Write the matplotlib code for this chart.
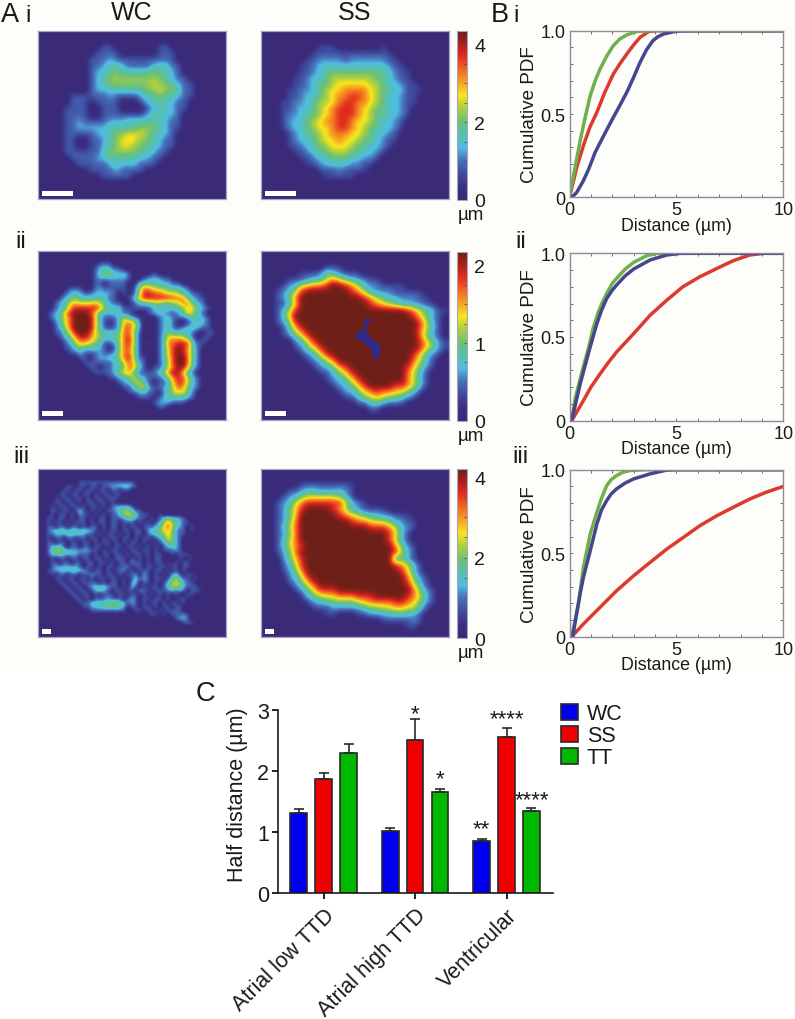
import matplotlib
matplotlib.use("Agg")
import matplotlib.pyplot as plt
from matplotlib.colors import LinearSegmentedColormap
from matplotlib.patches import Rectangle, Patch
from matplotlib.ticker import MultipleLocator
import numpy as np

plt.rcParams['font.family'] = ['Liberation Sans', 'DejaVu Sans']

W, H = 795, 1020

# ---- distance maps: each character is a level 0-9
LEVELS = [0.0, 0.16, 0.26, 0.33, 0.44, 0.55, 0.63, 0.74, 0.86, 1.0]        # share of the scale maximum
LEVELS_THIN = [0.0, 0.19, 0.31, 0.38, 0.50, 0.60, 0.68, 0.78, 0.88, 1.0]    # maps with thin ridges

WC_I = ["", "",
"000000000011000000011", "0000000001111000000111", "0000000011121111111111",
"00000000112332111123311", "00000000122343333343321", "00000000123444444444" + "3211",
"00000000123" + "4444444" + "5443211", "0000000012223333344544311",
"00000" + "111111" + "2" + "1111" + "2" + "33" + "4" + "33" + "2" + "11",
"00000" + "1110111100012333211",
"0000" + "1111" + "00" + "111" + "0000" + "1233211",
"0000" + "1111" + "00" + "1111111" + "2" + "33" + "22" + "1",
"0000" + "1121111222" + "333333" + "211",
"0000" + "11" + "22222" + "33333" + "444" + "3211",
"0000" + "11111" + "22" + "3" + "44" + "555" + "4" + "33" + "2" + "1",
"0000" + "11" + "00" + "11" + "2" + "3" + "4" + "5" + "6" + "5" + "44" + "3" + "2" + "11",
"0000" + "11" + "00" + "11" + "2" + "3" + "4" + "55" + "44" + "33" + "2" + "11",
"0000" + "111111" + "3" + "44444" + "33211",
"00000" + "1111" + "22" + "33333" + "22" + "11",
"000000" + "11111" + "2" + "3" + "222" + "111",
"00000000" + "1111" + "2" + "1111",
"0000000000" + "11111", "", "", ""]

SS_I = ["", "",
"000000000111" + "0000000" + "1", "00000000" + "1" * 13,
"0000000" + "11" + "2222" + "1" + "222222" + "11",
"000000" + "11" + "2" + "33333333333" + "2" + "11",
"000000" + "11" + "2" + "3" + "4444444444" + "3" + "2" + "11",
"00000" + "11" + "2" + "33" + "4" + "5555555" + "44" + "3" + "2" + "11",
"00000" + "11" + "2" + "3" + "44" + "5" + "66666" + "55" + "4" + "33" + "2" + "11",
"0000" + "11" + "22" + "3" + "4" + "5" + "66" + "7777" + "6" + "5" + "44" + "33" + "111",
"0000" + "11" + "2" + "33" + "4" + "5" + "6" + "77" + "88" + "7" + "6" + "5" + "4" + "33" + "2" + "11",
"000" + "11" + "22" + "3" + "4" + "55" + "6" + "7" + "88" + "77" + "6" + "5" + "4" + "33" + "2" + "11",
"000" + "11" + "2" + "33" + "4" + "5" + "6" + "7" + "888" + "7" + "6" + "5" + "44" + "33" + "2" + "1",
"000" + "1" + "22" + "3" + "44" + "5" + "6" + "7" + "888" + "7" + "6" + "5" + "44" + "33" + "2" + "1",
"000" + "1" + "2" + "33" + "4" + "5" + "6" + "77" + "88" + "7" + "66" + "5" + "4" + "33" + "2" + "1",
"000" + "1" + "2" + "33" + "4" + "5" + "66" + "7" + "88" + "7" + "6" + "5" + "44" + "33" + "2" + "1",
"0000" + "1" + "2" + "3" + "44" + "5" + "6" + "777" + "66" + "5" + "4" + "33" + "2" + "1",
"0000" + "1" + "2" + "33" + "4" + "5" + "66" + "7" + "66" + "5" + "44" + "3" + "2" + "11",
"0000" + "11" + "2" + "3" + "44" + "5" + "666" + "5" + "44" + "33" + "2" + "1",
"00000" + "11" + "2" + "3" + "44" + "555" + "44" + "33" + "2" + "1",
"000000" + "11" + "2" + "33" + "444" + "33" + "22" + "1",
"0000000" + "11" + "2" + "3333" + "22" + "11",
"000000000" + "111" + "2" + "1111",
"0000000000" + "11111", "", "", ""]

WC_II = ["", "",
"000000000000111",
"00000000000123211",
"000000000001344323100001",
"000000000001222222100122211",
"00000000000110111100" + "333332211",
"00000011100121111101" + "47654433321",
"00000123211222210101" + "48877655432" + "11",
"0000123433333311001" + "368888887763" + "211",
"000123565556532110012334433457632" + "1",
"00012368888874333111111223333465321",
"0012368999863223211000123211246421",
"00123579999631113532" + "10001231112332" + "1",
"00013579999631013675" + "2000123100" + "12321",
"00012479999631113775" + "200012311233" + "211",
"00011358998543334774" + "10001243332" + "10011",
"000012368875433347841000136665" + "31011",
"0000012466543112" + "478410101377887" + "211",
"000001134333210147741000" + "13689863" + "1",
"000000112111211" + "2477410001368986" + "31",
"00000000110" + "1223347841100135899" + "631",
"000000000111111" + "23575" + "2100" + "125899" + "631",
"00000000001101133476" + "3101" + "1357985" + "21",
"000000000001111" + "24663" + "1111" + "347985" + "21",
"00000000000000" + "112245" + "32111" + "247874" + "21",
"0000000000000000" + "122453" + "1011" + "368742" + "1",
"00000000000000000" + "11345" + "2112" + "357632" + "1",
"000000000000000000" + "112211" + "023555" + "31",
"00000000000000000000" + "1110" + "1233332" + "1",
"00000000000000000000000" + "1222111",
"000000000000000000000000" + "11", "", ""]

WC_III = ["", "", "",
"0000000000" + "11111111111111",
"0000000110110110112233321",
"00000011011011011011011",
"000001101101101011011",
"00001011011010110111",
"0000110110101101101",
"000101101101011010122221",
"00011011013" + "101010112" + "344311",
"00010110102" + "110101011" + "345431" + "1" + "10" + "01",
"00110110101" + "101011011" + "123421" + "10101" + "343321",
"0010110101" + "1101011011" + "0111010" + "1012" + "46432" + "11",
"0011011011" + "0101101011" + "0101101" + "1123" + "575321" + "01",
"0012333233" + "3332101011" + "0110110" + "2334" + "564211" + "01",
"0011222333" + "2211010110" + "1010110" + "1233" + "46421" + "1",
"0010110110" + "1101101011" + "0110101" + "1012" + "35421",
"0011011011" + "0110101101" + "0101101" + "0101" + "24421",
"0012331011" + "0110110101" + "1011010" + "1010" + "12321",
"0013453322" + "2221101011" + "0101101" + "1010" + "1112" + "1",
"0012332222" + "1110101101" + "1010110" + "1011" + "001011" + "1",
"0001011011" + "0110110101" + "1101010" + "1011" + "0000100" + "1",
"0001101101" + "1011011010" + "1102110" + "1011" + "010101" + "1",
"0001222222" + "1011010110" + "1120110" + "1101" + "101101" + "1",
"0011223333" + "3210110101" + "1201011" + "1011" + "010101",
"0001011011" + "0112110110" + "1011202" + "1010" + "1023101" + "1",
"0000110110" + "1101011011" + "0101312" + "1011" + "01343110" + "1",
"0000011011" + "0111101011" + "0102301" + "1010" + "12454211",
"0000001101" + "1012333211" + "0103101" + "0110" + "135442111",
"0000000110" + "1101232101" + "1011021" + "1011" + "112121011" + "1",
"0000000011" + "0110101110" + "1101101" + "0101" + "01010011",
"0000000001" + "1010111211" + "1012101" + "1011" + "010011",
"0000000000" + "1113333344" + "3312101" + "0110" + "101101",
"0000000000" + "0112233434" + "3201101" + "1010" + "11011",
"0000000000" + "0001111111" + "1100110" + "1101" + "01111",
"0000000000" + "0000000000" + "0000000" + "0110" + "1011121",
"0000000000" + "0000000000" + "0000000" + "0000" + "0001221",
"0000000000" + "0000000000" + "0000000" + "0000" + "00000111", "", "", ""]

SS_II = ["", "",
"0000000000111",
"0000001112432111",
"0000111233575" + "4322" + "11",
"00012356778998753221111",
"00123589" + "9" * 6 + "875322211" + "111",
"00124" + "79" + "9" * 8 + "9" + "875433222" + "11",
"00113" + "69" + "9" * 9 + "9876543322" + "11",
"00135" + "89" + "9" * 15 + "98754" + "3" + "11",
"00136" + "9" * 19 + "864" + "21",
"00124" + "89" + "9" * 18 + "853" + "1",
"00013" + "689" + "9" * 17 + "753" + "1",
"00012" + "468" + "9" * 17 + "742" + "1",
"000002368" + "9" * 16 + "8642" + "1",
"00000" + "12468" + "9" * 15 + "8642" + "1",
"000000" + "12368" + "9" * 13 + "8632" + "1",
"0000000" + "1235" + "7" + "9" * 12 + "7531",
"00000000" + "1234" + "78" + "9" * 9 + "8642" + "1",
"000000000" + "11346" + "8" + "9" * 8 + "7531",
"0000000000" + "123468" + "9" * 7 + "7531",
"00000000000" + "123468" + "9" * 4 + "88" + "7531",
"000000000000" + "1234678" + "776" + "6" + "431",
"0000000000000" + "11345" + "6544" + "3" + "21",
"000000000000000" + "11332111",
"00000000000000000" + "11", ""]
# the dark gap in the middle of the SS ii map, in grid cells
GAP_II_COL = [16.5, 17.05, 16.5, 16.25, 17.05, 18.4, 18.6, 17.85, 17.05, 15.45, 14.2, 15.7, 16.0]
GAP_II_ROW = [10.1, 10.6, 11.2, 12.2, 13.6, 14.4, 15.7, 17.3, 15.2, 13.85, 13.2, 12.1, 10.9]

SS_III = ["", "",
"000000111111111",
"0000112332223" + "21",
"00012345555543" + "1",
"00123578888886" + "321",
"00124689999" + "8753" + "21111",
"00124" + "6" + "9" * 6 + "876543322111",
"00124" + "7" + "9" * 8 + "87765543211",
"00135" + "7" + "9" * 11 + "888753" + "21",
"00124" + "7" + "9" * 14 + "8631",
"00135" + "7" + "9" * 14 + "8531",
"00135" + "78" + "9" * 14 + "7421",
"00124" + "7" + "9" * 15 + "8531",
"00024" + "68" + "9" * 14 + "2421",
"00013" + "58" + "9" * 14 + "87531",
"00012" + "47" + "9" * 15 + "8631",
"00002" + "358" + "9" * 15 + "7421",
"00001" + "2468" + "9" * 14 + "8531",
"000001" + "2468" + "88" + "9" * 12 + "74" + "21",
"000000" + "1345667" + "77888" + "99999" + "875" + "31",
"0000000" + "1233444" + "4567777" + "88" + "76" + "421",
"00000000" + "1112222" + "23445566" + "55" + "31",
"0000000000" + "11000" + "112223333" + "21",
"0000000000000000000" + "1111" + "121",
"00000000000000000000000" + "11", ""]

COL_HEADS = ["WC", "SS"]
ROW_LABELS = ["i", "ii", "iii"]
SCALE_MAX = [4.33, 2.17, 4.2]
CBAR_TICKS = [[0, 2, 4], [0, 1, 2], [0, 2, 4]]
CBAR_MINOR = [0.5, 0.25, 0.5]
SCALE_BAR_LEN_PX = [31, 21, 9]

# ---- cumulative distribution curves (panel B)
BI_GREEN_X = [0, 0.2, 0.5, 0.75, 0.97, 1.2, 1.43, 1.75, 2.05, 2.35, 2.68, 3.15, 3.77, 10]
BI_GREEN_Y = [0, 0.14, 0.34, 0.49, 0.61, 0.70, 0.77, 0.85, 0.91, 0.95, 0.975, 0.995, 1, 1]
BI_RED_X = [0, 0.34, 0.65, 0.95, 1.28, 1.65, 2.05, 2.35, 2.68, 3, 3.3, 3.7, 4.1, 10]
BI_RED_Y = [0, 0.18, 0.31, 0.42, 0.51, 0.63, 0.74, 0.80, 0.86, 0.915, 0.96, 0.995, 1, 1]
BI_BLUE_X = [0, 0.15, 0.34, 0.65, 0.9, 1.2, 1.6, 2.05, 2.35, 2.68, 3, 3.3, 3.6, 3.9, 4.15, 4.4, 5, 5.6, 10]
BI_BLUE_Y = [0, 0.005, 0.03, 0.10, 0.17, 0.27, 0.37, 0.48, 0.55, 0.63, 0.72, 0.81, 0.885, 0.94, 0.965, 0.98, 0.998, 1, 1]

BII_GREEN_X = [0.1, 0.26, 0.6, 0.9, 1.1, 1.35, 1.55, 1.74, 2.0, 2.2, 2.6, 3, 3.6, 4.1, 10]
BII_GREEN_Y = [0, 0.13, 0.30, 0.44, 0.55, 0.65, 0.71, 0.76, 0.82, 0.85, 0.905, 0.946, 0.985, 1, 1]
BII_RED_X = [0.1, 0.65, 1.0, 1.43, 1.8, 2.2, 3, 3.77, 4.55, 5.3, 6.1, 6.9, 7.66, 8.44, 9.1, 10]
BII_RED_Y = [0, 0.12, 0.20, 0.28, 0.345, 0.41, 0.52, 0.63, 0.72, 0.80, 0.86, 0.91, 0.956, 0.99, 1, 1]
BII_BLUE_X = [0.1, 0.5, 0.9, 1.1, 1.28, 1.5, 1.74, 2.0, 2.2, 2.6, 3, 3.77, 4.55, 5.2, 10]
BII_BLUE_Y = [0, 0.22, 0.41, 0.50, 0.58, 0.66, 0.73, 0.78, 0.81, 0.865, 0.906, 0.96, 0.99, 1, 1]

BIII_GREEN_X = [0.1, 0.42, 0.65, 0.97, 1.28, 1.5, 1.74, 1.95, 2.2, 2.5, 2.83, 3.5, 10]
BIII_GREEN_Y = [0, 0.2, 0.415, 0.615, 0.745, 0.83, 0.905, 0.94, 0.965, 0.985, 0.995, 1, 1]
BIII_RED_X = [0.1, 0.65, 1.43, 2.2, 3, 3.77, 4.55, 5.33, 6.1, 6.9, 7.66, 8.44, 9.2, 10]
BIII_RED_Y = [0, 0.076, 0.176, 0.275, 0.365, 0.445, 0.525, 0.595, 0.665, 0.725, 0.775, 0.825, 0.865, 0.90]
BIII_BLUE_X = [0.15, 0.5, 0.65, 0.97, 1.28, 1.5, 1.74, 1.95, 2.2, 2.6, 3, 3.77, 4.55, 5, 10]
BIII_BLUE_Y = [0, 0.26, 0.355, 0.515, 0.675, 0.76, 0.815, 0.855, 0.885, 0.92, 0.945, 0.975, 0.998, 1, 1]

# ---- half distance bars (panel C)
GROUPS = ["Atrial low TTD", "Atrial high TTD", "Ventricular"]
SERIES = ["WC", "SS", "TT"]
WC_VALS = [1.31, 1.02, 0.85]
SS_VALS = [1.87, 2.50, 2.56]
TT_VALS = [2.29, 1.65, 1.335]
WC_ERR = [0.06, 0.05, 0.03]
SS_ERR = [0.10, 0.36, 0.15]
TT_ERR = [0.15, 0.06, 0.05]
STAR_TEXT = ["*", "*", "**", "****", "****"]
STAR_GROUP = [1, 1, 2, 2, 2]
STAR_SERIES = [1, 2, 0, 1, 2]
STAR_Y = [3.06, 1.98, 1.17, 2.98, 1.64]

CMAP = LinearSegmentedColormap.from_list("map", [
    (0.00, "#3a2a78"), (0.07, "#3a2e80"), (0.16, "#3f4c9e"), (0.25, "#4a7cc0"),
    (0.31, "#4fbde2"), (0.38, "#55c0b0"), (0.46, "#6cc078"), (0.55, "#b0d03c"),
    (0.62, "#f6e61e"), (0.70, "#f8a020"), (0.78, "#f06420"), (0.86, "#e02a20"),
    (0.93, "#a82018"), (1.00, "#6e2018")])

fig = plt.figure(figsize=(W / 100, H / 100), dpi=100, facecolor="white")


def axpx(x0, y0, x1, y1):
    return fig.add_axes([x0 / W, 1 - y1 / H, (x1 - x0) / W, (y1 - y0) / H])


def txt(x, y, s, size, **kw):
    kw.setdefault("color", "#1a1a1a")
    fig.text(x / W, 1 - y / H, s, fontsize=size, **kw)


fig.patches.append(Rectangle((0, 1 - 672 / H), 1, 672 / H, transform=fig.transFigure,
                             facecolor="#fdfdf9", edgecolor="none", zorder=-5))


def grid(rows, n, levels):
    lookup = np.array(levels)
    return lookup[np.array([[int(ch) for ch in r.ljust(n, "0")[:n]] for r in rows])]


ROWS_PX = [(32.3, 200), (251.7, 420.7), (470, 638.3)]
CBAR_PX = [(32.3, 201), (253.3, 421.7), (470, 639)]
CURVE_PX = [(31.7, 198.3), (254.3, 421.7), (470.7, 637.7)]
PANELS = [[(WC_I, 30, LEVELS_THIN), (SS_I, 30, LEVELS)],
          [(WC_II, 38, LEVELS_THIN), (SS_II, 30, LEVELS)],
          [(WC_III, 47, LEVELS_THIN), (SS_III, 30, LEVELS)]]
COL_PX = [(38, 225.5), (261, 449)]
FRAME = "#a8a6c4"

for i, (y0, y1) in enumerate(ROWS_PX):
    vmax = SCALE_MAX[i]
    for j, (x0, x1) in enumerate(COL_PX):
        ax = axpx(x0, y0, x1, y1)
        rows, n, levels = PANELS[i][j]
        im = ax.imshow(grid(rows, n, levels) * vmax, cmap=CMAP, vmin=0, vmax=vmax, aspect="auto",
                       interpolation="bicubic")
        ax.autoscale(False)
        if i == 1 and j == 1:
            ax.fill(GAP_II_COL, GAP_II_ROW, color="#2f2c8c", lw=0)
        ax.set_xticks([]); ax.set_yticks([])
        for s in ax.spines.values():
            s.set_color(FRAME); s.set_linewidth(0.9)
        bar_h = 5 / (y1 - y0)
        ax.add_patch(Rectangle((4 / (x1 - x0), 3.5 / (y1 - y0)), SCALE_BAR_LEN_PX[i] / (x1 - x0), bar_h,
                               transform=ax.transAxes, facecolor="white", edgecolor="none"))
    cy0, cy1 = CBAR_PX[i]
    cax = axpx(457.3, cy0, 467.3, cy1)
    cb = fig.colorbar(im, cax=cax, ticks=CBAR_TICKS[i])
    cb.outline.set_edgecolor(FRAME); cb.outline.set_linewidth(0.8)
    cb.ax.yaxis.set_minor_locator(MultipleLocator(CBAR_MINOR[i]))
    cb.ax.tick_params(which="major", direction="in", length=2, width=0.5, color="#444",
                      labelsize=14, pad=5, labelcolor="#1a1a1a")
    cb.ax.tick_params(which="minor", direction="in", length=2, width=0.5, color="#444")
    txt(470.5, cy1 + 15, "\u00b5m", 13.5, ha="center", va="center")

for j, h in enumerate(COL_HEADS):
    txt(sum(COL_PX[j]) / 2, 20, h, 18, ha="center", va="baseline")

txt(1, 22, "A", 19.5, ha="left", va="baseline")
txt(491, 22, "B", 19.5, ha="left", va="baseline")
txt(196, 701, "C", 19.5, ha="left", va="baseline")
LABEL_BASE = [22, 248, 463]
LABEL_X_A = [25, 15, 13]
LABEL_X_B = [513, 515, 512]
for lab, b, xa, xb in zip(ROW_LABELS, LABEL_BASE, LABEL_X_A, LABEL_X_B):
    txt(xa, b, lab, 17.5, ha="left", va="baseline")
    txt(xb, b, lab, 17.5, ha="left", va="baseline")

CURVES = [
    [(BI_RED_X, BI_RED_Y), (BI_GREEN_X, BI_GREEN_Y), (BI_BLUE_X, BI_BLUE_Y)],
    [(BII_RED_X, BII_RED_Y), (BII_GREEN_X, BII_GREEN_Y), (BII_BLUE_X, BII_BLUE_Y)],
    [(BIII_RED_X, BIII_RED_Y), (BIII_GREEN_X, BIII_GREEN_Y), (BIII_BLUE_X, BIII_BLUE_Y)],
]
CURVE_COLORS = ["#dc3a30", "#6fb04a", "#46468f"]
for i, (y0, y1) in enumerate(CURVE_PX):
    ax = axpx(569.5, y0, 783.3, y1)
    for (cx, cy), col in zip(CURVES[i], CURVE_COLORS):
        ax.plot(cx, cy, color=col, lw=2.5, clip_on=True, solid_joinstyle="round")
    ax.set_xlim(0, 10); ax.set_ylim(0, 1)
    ax.set_facecolor("none")
    ax.set_xticks([0, 5, 10]); ax.set_xticklabels(["0", "5", "10"])
    ax.set_yticks([0, 0.5, 1]); ax.set_yticklabels(["0", "0.5", "1.0"])
    ax.xaxis.set_minor_locator(MultipleLocator(1))
    ax.yaxis.set_minor_locator(MultipleLocator(0.1))
    ax.tick_params(which="both", direction="in", top=True, right=True, length=2,
                   width=0.6, color="#555", labelsize=13, labelcolor="#1a1a1a", pad=3)
    for s in ax.spines.values():
        s.set_color("#8c8c9c"); s.set_linewidth(1)
    ax.set_ylabel("Cumulative PDF", fontsize=13.6, color="#1a1a1a", labelpad=2)
    ax.set_xlabel("Distance (\u00b5m)", fontsize=12.8, color="#1a1a1a", labelpad=-1)

# ---- panel C
ax = axpx(278, 711, 552.7, 893.7)
ax.set_facecolor("none")
group_x = np.arange(len(GROUPS))
offs = [-0.273, 0, 0.273]
vals = [WC_VALS, SS_VALS, TT_VALS]
errs = [WC_ERR, SS_ERR, TT_ERR]
cols = ["#0000f0", "#f00000", "#00b800"]
for k in range(3):
    ax.bar(group_x + offs[k], vals[k], width=0.183, color=cols[k], edgecolor="#2a2a2a", linewidth=1.2)
    ax.errorbar(group_x + offs[k], vals[k], yerr=[np.zeros(3), errs[k]], fmt="none",
                ecolor="#2a2a2a", elinewidth=1.2, capsize=3.6, capthick=1.2)
for t, g, s, y in zip(STAR_TEXT, STAR_GROUP, STAR_SERIES, STAR_Y):
    ax.annotate(t, (g + offs[s], y), xytext=(0, -9), textcoords="offset points",
                ha="center", va="baseline", fontsize=16, color="#1a1a1a", annotation_clip=False)
ax.set_xlim(-0.5, 2.505); ax.set_ylim(0, 3)
ax.set_yticks([0, 1, 2, 3])
ax.set_xticks(group_x)
ax.set_xticklabels(GROUPS, rotation=45, ha="right", rotation_mode="anchor", fontsize=15.5, color="#1a1a1a")
ax.tick_params(axis="y", labelsize=15.5, length=4.5, width=1.2, pad=2, labelcolor="#1a1a1a")
ax.tick_params(axis="x", length=4.5, width=1.2, pad=4)
for s in ("top", "right"):
    ax.spines[s].set_visible(False)
for s in ("left", "bottom"):
    ax.spines[s].set_linewidth(1.2); ax.spines[s].set_color("#1a1a1a")
ax.set_ylabel("Half distance (\u00b5m)", fontsize=15.5, color="#1a1a1a")
ax.yaxis.set_label_coords(-0.109, 0.54)
handles = [Patch(facecolor=c, edgecolor="#2a2a2a", linewidth=1.2, label=s) for c, s in zip(cols, SERIES)]
fig.legend(handles=handles, loc="upper left", bbox_to_anchor=(557 / W, 1 - 700 / H), frameon=False,
           fontsize=15.5, handlelength=0.78, handleheight=0.8, labelspacing=0.05, handletextpad=0.4,
           borderpad=0.2, borderaxespad=0, labelcolor="#1a1a1a")

fig.savefig("out.png", dpi=100, facecolor=fig.get_facecolor())
